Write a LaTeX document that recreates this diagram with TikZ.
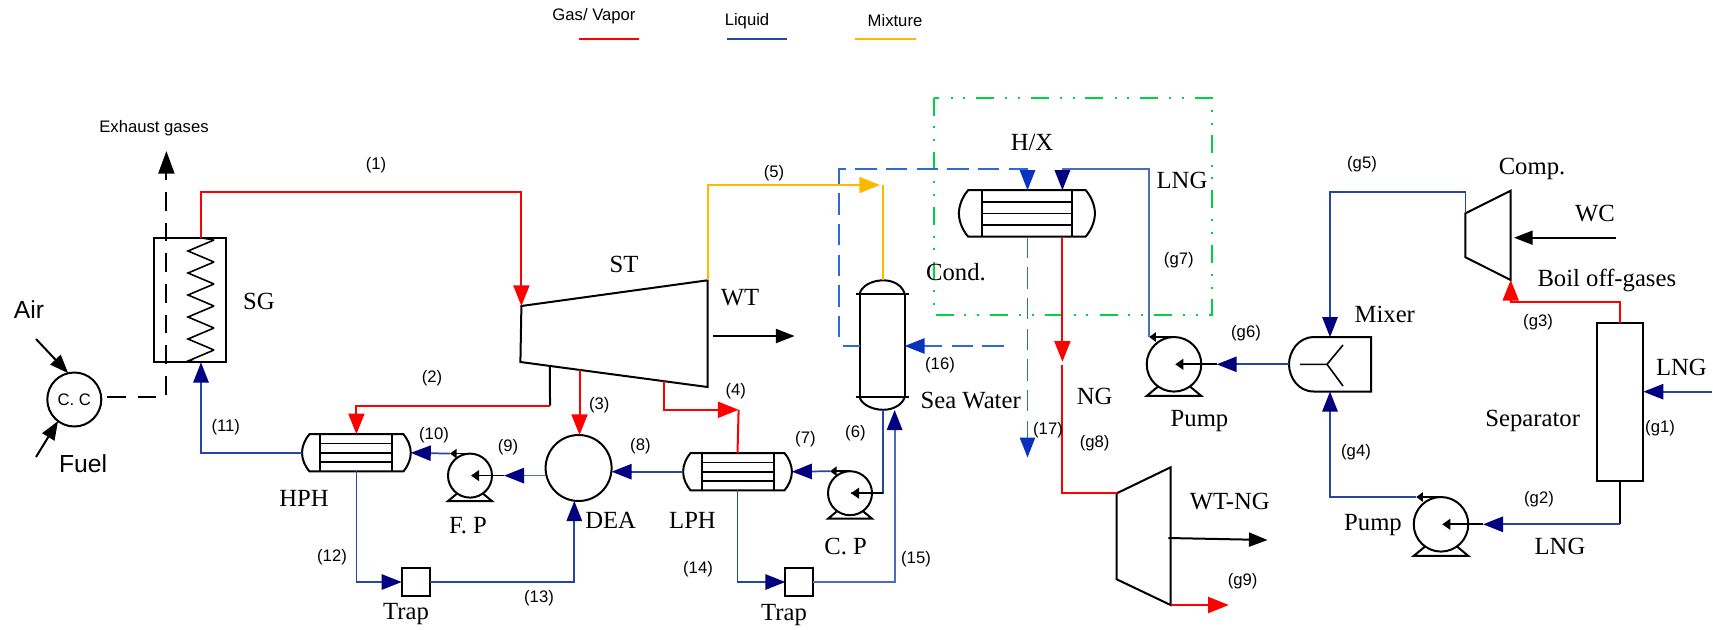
\documentclass[tikz,border=0pt]{standalone}
\usepackage{fontspec}
\setmainfont{Liberation Serif}
\newfontfamily\labelsans{Liberation Sans}
\usepackage{tikz}
\usetikzlibrary{arrows.meta}
\usetikzlibrary{calc}

\definecolor{gasred}{RGB}{255,0,0}
\definecolor{liquidblue}{RGB}{38,70,165}
\definecolor{softblue}{RGB}{75,110,185}
\definecolor{tipblue}{RGB}{0,0,128}
\definecolor{mixorange}{RGB}{255,184,0}
\definecolor{dashblue}{RGB}{45,105,215}
\definecolor{tipdash}{RGB}{10,50,190}
\definecolor{boxgreen}{RGB}{0,210,70}

\tikzset{
  equip/.style={draw=black, line width=1.5pt},
  boxed/.style={equip, inner sep=0pt, outer sep=0pt},
  mixbody/.style={inner sep=0pt, outer sep=0pt, minimum width=61.5pt, minimum height=40.8pt},
  eqname/.style={inner sep=0pt, font=\fontsize{18.5}{20}\selectfont},
  sanslabel/.style={inner sep=0pt, font=\labelsans\fontsize{18.5}{20}\selectfont},
  statelabel/.style={inner sep=0pt, font=\labelsans\fontsize{12.5}{14}\selectfont},
  gas/.style={draw=gasred, line width=1.5pt, -{Triangle[length=15.5pt,width=12pt,color=gasred]}},
  gasline/.style={draw=gasred, line width=1.5pt},
  liquid/.style={draw=liquidblue, line width=1.3pt, -{Triangle[length=15pt,width=11.5pt,color=tipblue]}},
  liquidline/.style={draw=liquidblue, line width=1.3pt},
  mixture/.style={draw=mixorange, line width=1.5pt},
  power/.style={draw=black, line width=1.5pt, -{Triangle[length=14pt,width=10.5pt]}},
  inlet/.style={draw=black, line width=1.3pt, -{Triangle[length=6pt,width=8pt]}},
  seawater/.style={draw=dashblue, line width=1.3pt, dash pattern=on 16pt off 7pt},
  seatip/.style={seawater, -{Triangle[length=15pt,width=11.5pt,color=tipdash]}},
  exhaust/.style={draw=black, line width=1.5pt, dash pattern=on 14pt off 9pt},
  pics/exch/.style={code={
    \draw[equip] (-47,-18.6) -- (47,-18.6) .. controls (51,-14) and (54.4,-7) .. (54.4,0)
      .. controls (54.4,7) and (51,14) .. (47,18.6) -- (-47,18.6)
      .. controls (-51,14) and (-54.4,7) .. (-54.4,0) .. controls (-54.4,-7) and (-51,-14) .. (-47,-18.6) -- cycle;
    \foreach \t in {-9.3,0,9.3} \draw[equip, line width=1.2pt] (-36,\t) -- (36,\t);
    \foreach \s in {-36,36} \draw[equip] (\s,-18.6) -- (\s,18.6);
    \coordinate (-west) at (-54.4,0);
    \coordinate (-east) at (54.4,0);
    \coordinate (-north) at (0,-18.6);
    \coordinate (-south) at (0,18.6);
  }},
  pics/pump/.style={code={
    \draw[equip] (0,0) circle (22);
    \draw[equip] (-13,18) -- (-22,25.5) -- (22,25.5) -- (13,18);
    \draw[draw=black, line width=1.3pt, -{Triangle[length=5pt,width=7pt]}] (0,-22) -- (-20,-22);
    \coordinate (-out) at (-20,-22);
    \coordinate (-center) at (1,0);
  }}
}

\begin{document}
\begin{tikzpicture}[x=0.75pt, y=-0.75pt]
    \useasboundingbox (0,0) rectangle (1713,629);

    % Legend
    \node[statelabel] (leggas) at (594,16) {Gas/ Vapor};
    \node[statelabel] (legliq) at (747,21) {Liquid};
    \node[statelabel] (legmix) at (895,21) {Mixture};
    \coordinate (gasa) at (579,38.7);
    \coordinate (gasb) at (639,38.7);
    \coordinate (liqa) at (727,38.7);
    \coordinate (liqb) at (787,38.7);
    \coordinate (mixa) at (855,38.7);
    \coordinate (mixb) at (916,38.7);
    \draw[gasline] (gasa) -- (gasb);
    \draw[liquidline] (liqa) -- (liqb);
    \draw[mixture] (mixa) -- (mixb);

    % Combustion chamber and steam generator
    \node[boxed, circle, minimum size=40.5pt, font=\labelsans\fontsize{12.5}{14}\selectfont] (cc) at (74.3,399.5) {C. C};
    \node[boxed, minimum width=54.1pt, minimum height=93.5pt] (sg) at (189.6,300.1) {};
    \coordinate (sgout) at (201,237.8);
    \coordinate (sgin) at (201,362.5);
    \draw[equip, line width=1.2pt] (sgout) -- (214,240);
    \foreach \k in {0,...,4} {
        \draw[equip, line width=1.2pt] (214,{240+22*\k}) -- (188,{251+22*\k}) -- (214,{262+22*\k});
    }
    \draw[equip, line width=1.2pt] (214,350) -- (188,361) -- (sgin);

    % Turbines
    \coordinate (st-nw) at (521.4,306);
    \coordinate (st-ne) at (707.5,280.3);
    \coordinate (st-se) at (707.5,387);
    \coordinate (st-sw) at (520.4,362);
    \draw[equip] (st-nw) -- (st-ne) -- (st-se) -- (st-sw) -- cycle;
    \coordinate (wt-nw) at (1116.7,493.3);
    \coordinate (wt-ne) at (1170.6,467.3);
    \coordinate (wt-se) at (1170.6,605);
    \coordinate (wt-sw) at (1116.7,579.3);
    \draw[equip] (wt-nw) -- (wt-ne) -- (wt-se) -- (wt-sw) -- cycle;
    \coordinate (comp-nw) at (1465.4,213.3);
    \coordinate (comp-ne) at (1510.7,190.7);
    \coordinate (comp-se) at (1510.7,280);
    \coordinate (comp-sw) at (1465.4,257.3);
    \draw[equip] (comp-nw) -- (comp-ne) -- (comp-se) -- (comp-sw) -- cycle;

    % Heaters, heat exchanger and pumps
    \pic (hph) at (356.4,452.8) {exch};
    \pic (lph) at (737.5,471.7) {exch};
    \pic[scale=1.25] (hx) at (1026.9,213.4) {exch};
    \pic (fp) at (470,475.6) {pump};
    \pic (cp) at (850,493.2) {pump};
    \pic[scale=1.24] (pa) at (1174,364.3) {pump};
    \pic[scale=1.24] (pb) at (1441,524.3) {pump};
    \node[boxed, circle, minimum size=49.5pt] (dea) at (578.6,468) {};
    \node[boxed, minimum width=21.5pt, minimum height=20.5pt] (traph) at (416,582) {};
    \node[boxed, minimum width=20.5pt, minimum height=20.5pt] (trapl) at (799,582) {};
    \node[boxed, minimum width=35pt, minimum height=118.3pt] (sep) at (1620,402) {};

    % Condenser
    \node[boxed, minimum width=33.75pt, minimum height=77pt] (cond) at (882.1,345.6) {};
    \coordinate (condtop) at (883.2,280.3);
    \coordinate (condbot) at (883.2,409.8);
    \draw[equip] (cond.north west) .. controls (861,286) and (872,280.3) .. (condtop)
        .. controls (894,280.3) and (903,286) .. (cond.north east);
    \draw[equip] (cond.south west) .. controls (861,404) and (872,409.8) .. (condbot)
        .. controls (894,409.8) and (903,404) .. (cond.south east);
    \draw[equip] ([xshift=-3pt]cond.north west) -- ([xshift=3pt]cond.north east);
    \draw[equip] ([xshift=-3pt]cond.south west) -- ([xshift=3pt]cond.south east);

    % Mixer
    \node[mixbody] (mixer) at (1330,364.3) {};
    \draw[equip] (mixer.north east) -- (1313.7,337.1) .. controls (1298,337.1) and (1289,352) .. (mixer.west)
        .. controls (1289,377) and (1298,391.5) .. (1313.7,391.5) -- (mixer.south east) -- cycle;
    \draw[equip, line width=1.2pt] (1300,364.3) -- (1327,364.3) -- (1343,345);
    \draw[equip, line width=1.2pt] (1327,364.3) -- (1343,386);

    % Cooling box
    \coordinate (boxa) at (934,97.5);
    \coordinate (boxb) at (1211.5,314.6);
    \draw[draw=boxgreen, line width=1.5pt, dash pattern=on 13.5pt off 8pt on 1.5pt off 8pt on 1.5pt off 8.5pt] (boxa) rectangle (boxb);

    % Air, fuel, exhaust
    \coordinate (airin) at (36,339);
    \coordinate (fuelin) at (36,457);
    \coordinate (exhstart) at (107,396.6);
    \coordinate (exhbend) at (166.4,396.6);
    \coordinate (exhtop) at (166.4,151);
    \draw[power] (airin) -- (cc.103);
    \draw[power] (fuelin) -- (cc.233);
    \draw[exhaust, -{Triangle[length=17pt,width=12pt,color=black]}] (exhstart) -- (exhbend) -- (exhtop);

    % Steam lines
    \coordinate (bendone) at (521.4,192.4);
    \draw[gas] (sgout) |- (bendone) -- (st-nw);
    \coordinate (sttwo) at ($(st-sw)!0.158!(st-se)$);
    \coordinate (stthree) at ($(st-sw)!0.316!(st-se)$);
    \coordinate (stfour) at ($(st-sw)!0.765!(st-se)$);
    \coordinate (bendtwo) at (550,405.5);
    \draw[equip] (sttwo) -- (bendtwo);
    \draw[gas] (bendtwo) -| (hph-north);
    \draw[gas] (stthree) -- (stthree |- dea.north);
    \coordinate (tipfour) at (738.6,409.8);
    \draw[gas] (stfour) |- (tipfour);
    \draw[gasline] (tipfour) -- (lph-north);
    \coordinate (tipfive) at (880,185);
    \draw[mixture, -{Triangle[length=15.5pt,width=12pt,color=mixorange]}] (st-ne) |- (tipfive);
    \draw[mixture] (condtop) -- (condtop |- tipfive);

    % Water lines
    \draw[liquidline] (condbot) |- (cp-center);
    \draw[inlet] (condbot |- cp-center) -- (cp-center);
    \draw[liquid] (cp-out) -- (lph-east);
    \draw[liquid] (lph-west) -- (dea.east |- lph-west);
    \coordinate (tipnine) at (504,475.6);
    \draw[liquid, draw=softblue] (dea.west |- fp-center) -- (tipnine);
    \draw[inlet] (tipnine) -- (fp-center);
    \draw[liquid] (fp-out) -- (hph-east);
    \draw[liquid] (hph-west) -| (sgin);
    \draw[liquid] (hph-south) |- (traph.west);
    \coordinate (deain) at (574.3,501);
    \draw[liquid] (traph.east) -| (deain);
    \draw[liquid] (lph-south) |- (trapl.west);
    \coordinate (condin) at (894.6,410);
    \draw[liquid, draw=softblue, line width=1.5pt] (trapl.east) -| (condin);

    % Sea water lines
    \coordinate (seain) at (1003.6,346);
    \coordinate (seaout) at (842.9,346);
    \coordinate (seaup) at (839.3,337.4);
    \coordinate (seabend) at (839.3,169.3);
    \coordinate (hxsea) at (1027.5,190.2);
    \coordinate (hxseaout) at (1027.5,236.6);
    \coordinate (tipseven) at (1027.5,457.5);
    \draw[seatip] (seain) -- (cond.east |- seain);
    \draw[liquidline, draw=dashblue] (seaout) -- (cond.west |- seaout);
    \draw[seatip] (seaup) -- (seabend) -| (hxsea);
    \draw[seatip] (hxseaout) -- (tipseven);

    % Natural gas lines
    \coordinate (hxlng) at (1062.4,190.2);
    \coordinate (hxng) at (1062.4,236.7);
    \coordinate (bendgseven) at (1062.4,169.3);
    \coordinate (tipng) at (1062.4,361.7);
    \coordinate (ngon) at (1062.4,365);
    \coordinate (wtpow) at (1168.4,538);
    \coordinate (wtend) at (1267.6,540);
    \coordinate (wtout) at (1228.8,605);
    \draw[liquid, draw=softblue] (pa-out) |- (bendgseven) -- (hxlng);
    \draw[gas] (hxng) -- (tipng);
    \draw[gasline] (ngon) |- (wt-nw);
    \draw[power] (wtpow) -- (wtend);
    \draw[gas] (wt-se) -- (wtout);

    % Boil off loop
    \coordinate (lngin) at (1711.6,391.7);
    \coordinate (tipgtwo) at (1483,524.3);
    \coordinate (bendgthree) at (1510.7,302);
    \coordinate (bendgfive) at (1330,192.3);
    \coordinate (tipgsix) at (1216.7,364.3);
    \draw[liquid] (lngin) -- (sep.east |- lngin);
    \draw[equip, line width=1.3pt] (sep.south) -- (sep.south |- tipgtwo);
    \draw[liquid] (sep.south |- tipgtwo) -- (tipgtwo);
    \draw[inlet] (tipgtwo) -- (pb-center);
    \draw[gas] (sep.north) |- (bendgthree) -- (comp-se);
    \draw[liquid] (pb-out) -| (mixer.south);
    \draw[liquid] (comp-nw) |- (bendgfive) -- (mixer.north);
    \draw[liquid] (mixer.west) -- (tipgsix);
    \draw[inlet] (tipgsix) -- (pa-center);

    % Shaft power
    \coordinate (wtshaft) at (712.5,336);
    \coordinate (wtshaftend) at (794.6,336);
    \coordinate (wcin) at (1616.3,237.7);
    \coordinate (wcend) at (1514,237.7);
    \draw[power] (wtshaft) -- (wtshaftend);
    \draw[power] (wcin) -- (wcend);

    % Names
    \node[statelabel] (exh) at (154,127.8) {Exhaust gases};
    \node[sanslabel] (air) at (29,310) {Air};
    \node[sanslabel] (fuel) at (83,464) {Fuel};
    \node[eqname] (sgname) at (259,301) {SG};
    \node[eqname] (stname) at (624,264) {ST};
    \node[eqname] (wtname) at (740,298) {WT};
    \node[eqname] (hphname) at (304,498) {HPH};
    \node[eqname] (fpname) at (468,525.7) {F. P};
    \node[eqname] (trapa) at (406,614) {Trap};
    \node[eqname] (deaname) at (610.7,520.5) {DEA};
    \node[eqname] (lphname) at (692.5,520.5) {LPH};
    \node[eqname] (cpname) at (845.7,546.4) {C. P};
    \node[eqname] (trapb) at (784,615) {Trap};
    \node[eqname] (seaname) at (970.7,400.4) {Sea Water};
    \node[eqname] (condname) at (956,272.6) {Cond.};
    \node[eqname] (hxname) at (1032,142.3) {H/X};
    \node[eqname] (lngone) at (1182,180.7) {LNG};
    \node[eqname] (ngname) at (1094.7,396) {NG};
    \node[eqname] (pumpa) at (1199.5,420.7) {Pump};
    \node[eqname] (wtngname) at (1229.7,501.7) {WT-NG};
    \node[eqname] (mixname) at (1384.8,314.3) {Mixer};
    \node[eqname] (compname) at (1532,169) {Comp.};
    \node[eqname] (wcname) at (1595,214) {WC};
    \node[eqname] (boil) at (1606.8,280.7) {Boil off-gases};
    \node[eqname] (sepname) at (1532.7,421) {Separator};
    \node[eqname] (lngtwo) at (1681.4,367.3) {LNG};
    \node[eqname] (lngthree) at (1560,546) {LNG};
    \node[eqname] (pumpb) at (1373,525) {Pump};

    % States
    \foreach \n/\x/\y in {1/376/165, 2/432/378, 3/599.3/405.6, 4/735.7/391, 5/774/173.5, 6/855.4/433,
        7/805.4/439, 8/640.4/446, 9/508/447.4, 10/434/434.7, 11/225.7/427.5, 12/332/556.7,
        13/539/598.6, 14/698/569.5, 15/916/559, 16/940/365.4, 17/1048/430,
        g1/1660/428, g2/1539/499, g3/1538/321.7, g4/1356/451.7, g5/1362/164.5,
        g6/1246/332.7, g7/1178.8/260, g8/1094.7/442.7, g9/1242.6/581} {
        \node[statelabel] (s\n) at (\x,\y) {(\n)};
    }
\end{tikzpicture}
\end{document}
